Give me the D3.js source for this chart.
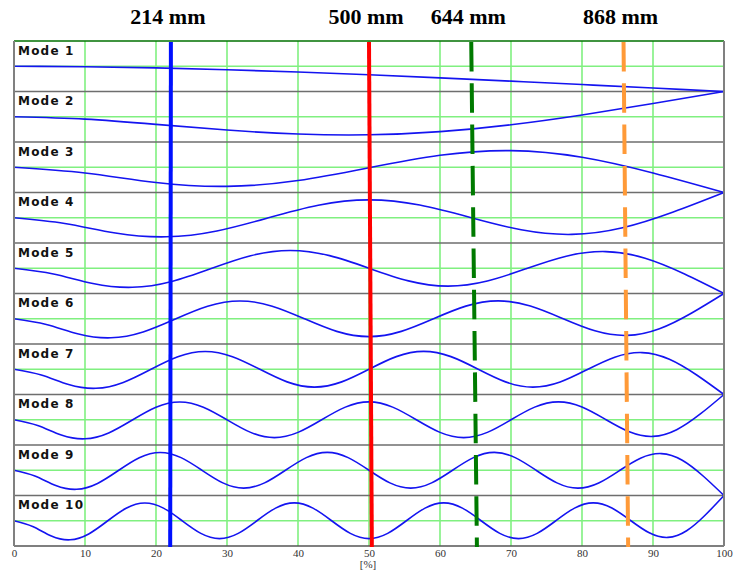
<!DOCTYPE html>
<html>
<head>
<meta charset="utf-8">
<script src="https://cdn.jsdelivr.net/npm/d3@7/dist/d3.min.js"></script>
<style>
  body { margin: 0; background: #fff; }
</style>
</head>
<body>
<div id="chart"></div>
<script>
// one band per mode
const modeNames = ["Mode 1", "Mode 2", "Mode 3", "Mode 4", "Mode 5",
                   "Mode 6", "Mode 7", "Mode 8", "Mode 9", "Mode 10"];

// deflection: +1 = top of band, -1 = bottom, 0 = green mid line
// points are evenly spaced from 0 % to 100 %
const mode1 = [0, -0.017, -0.064, -0.137, -0.230, -0.339, -0.461, -0.591, -0.725, -0.862, -1];
const mode2 = [0, -0.093, -0.301, -0.526, -0.683, -0.714, -0.589, -0.317, 0.070, 0.524, 1];
const mode3 = [0, -0.228, -0.605, -0.757, -0.526, -0.020, 0.474, 0.658, 0.395, -0.228, -1];
const mode4 = [0, -0.228, -0.604, -0.755, -0.522, -0.010, 0.497, 0.707, 0.504, 0.010, -0.478,
               -0.660, -0.396, 0.228, 1];
const mode5 = [0, -0.228, -0.604, -0.755, -0.522, -0.010, 0.496, 0.705, 0.499, 0, -0.501,
               -0.709, -0.505, -0.010, 0.478, 0.660, 0.396, -0.228, -1];
const mode6 = [0, -0.228, -0.604, -0.755, -0.522, -0.010, 0.496, 0.705, 0.499, 0, -0.5,
               -0.707, -0.5, 0, 0.5, 0.709, 0.505, 0.010, -0.478, -0.660, -0.396, 0.228, 1];
const mode7 = [0, -0.228, -0.604, -0.755, -0.522, -0.010, 0.496, 0.705, 0.499, 0, -0.5,
               -0.707, -0.5, 0, 0.5, 0.707, 0.5, 0, -0.5, -0.709, -0.505, -0.010, 0.478,
               0.660, 0.396, -0.228, -1];
const mode8 = [0, -0.228, -0.604, -0.755, -0.522, -0.010, 0.496, 0.705, 0.499, 0, -0.5,
               -0.707, -0.5, 0, 0.5, 0.707, 0.5, 0, -0.5, -0.707, -0.5, 0, 0.5, 0.709,
               0.505, 0.010, -0.478, -0.660, -0.396, 0.228, 1];
const mode9 = [0, -0.228, -0.604, -0.755, -0.522, -0.010, 0.496, 0.705, 0.499, 0, -0.5,
               -0.707, -0.5, 0, 0.5, 0.707, 0.5, 0, -0.5, -0.707, -0.5, 0, 0.5, 0.707,
               0.5, 0, -0.5, -0.709, -0.505, -0.010, 0.478, 0.660, 0.396, -0.228, -1];
const mode10 = [0, -0.228, -0.604, -0.755, -0.522, -0.010, 0.496, 0.705, 0.499, 0, -0.5,
                -0.707, -0.5, 0, 0.5, 0.707, 0.5, 0, -0.5, -0.707, -0.5, 0, 0.5, 0.707,
                0.5, 0, -0.5, -0.707, -0.5, 0, 0.501, 0.709, 0.505, 0.010, -0.478, -0.660,
                -0.396, 0.228, 1];

const modeValues = [mode1, mode2, mode3, mode4, mode5, mode6, mode7, mode8, mode9, mode10];

const xTicks = [0, 10, 20, 30, 40, 50, 60, 70, 80, 90, 100];
const xGrid = [10, 20, 30, 40, 50, 60, 70, 80, 90];

// measuring points (the hand drawn lines lean a little, so top and bottom in %)
const markerLabels = ["214 mm", "500 mm", "644 mm", "868 mm"];
const markerTop = [22.1, 50.0, 64.4, 85.85];
const markerBottom = [22.0, 50.4, 65.2, 86.5];

const width = 735
const height = 573
const margin = {top: 41, right: 11, bottom: 27, left: 14}

const markerStyle = [
    {color: "#0010ff", dash: null},
    {color: "#ff0000", dash: null},
    {color: "#007a00", dash: "29.5,11.8"},
    {color: "#ff9a38", dash: "29.5,11.8"}
]

const svg = d3.select("#chart")
    .append("svg")
    .attr("width", width)
    .attr("height", height)

svg.append("rect")
    .attr("width", width)
    .attr("height", height)
    .attr("fill", "#fff")

const x = d3.scaleLinear()
    .domain([0, 100])
    .range([margin.left, width - margin.right])

const band = d3.scaleBand()
    .domain(modeNames)
    .range([margin.top, height - margin.bottom])

// y inside a single band
const y = d3.scaleLinear()
    .domain([-1, 1])
    .range([band.bandwidth(), 0])

const plotTop = margin.top
const plotBottom = height - margin.bottom

// green grid: vertical every 10 %, horizontal through the middle of each band
svg.append("g")
    .selectAll("line")
    .data(xGrid)
    .enter().append("line")
    .attr("x1", d => x(d)).attr("x2", d => x(d))
    .attr("y1", plotTop).attr("y2", plotBottom)
    .attr("stroke", "#80f080")
    .attr("stroke-width", 1.6)

svg.append("g")
    .selectAll("line")
    .data(modeNames)
    .enter().append("line")
    .attr("x1", x(0)).attr("x2", x(100))
    .attr("y1", d => band(d) + y(0)).attr("y2", d => band(d) + y(0))
    .attr("stroke", "#80f080")
    .attr("stroke-width", 1.6)

// gray separators between the bands
svg.append("g")
    .selectAll("line")
    .data(modeNames.slice(1))
    .enter().append("line")
    .attr("x1", x(0)).attr("x2", x(100))
    .attr("y1", d => band(d)).attr("y2", d => band(d))
    .attr("stroke", "#6e6e6e")
    .attr("stroke-width", 1.4)

// mode shapes
const line = d3.line()
    .x((d, i, arr) => x(i / (arr.length - 1) * 100))
    .y(d => y(d))
    .curve(d3.curveNatural)

const modes = svg.append("g")
    .selectAll("g")
    .data(modeNames)
    .enter().append("g")
    .attr("transform", d => `translate(0, ${band(d)})`)

modes.append("path")
    .attr("d", (d, i) => line(modeValues[i]))
    .attr("fill", "none")
    .attr("stroke", "#1414f0")
    .attr("stroke-width", 1.6)

modes.append("text")
    .attr("x", 18)
    .attr("y", 13.5)
    .text(d => d)
    .style("font", "bold 12px 'DejaVu Sans'")
    .style("letter-spacing", "1.2px")
    .attr("fill", "#111")

// frame
svg.append("line")
    .attr("x1", x(0)).attr("x2", x(100))
    .attr("y1", plotTop).attr("y2", plotTop)
    .attr("stroke", "#007000").attr("stroke-width", 1.5)
svg.append("line")
    .attr("x1", x(0)).attr("x2", x(100))
    .attr("y1", plotBottom).attr("y2", plotBottom)
    .attr("stroke", "#555").attr("stroke-width", 1.5)
svg.append("g")
    .selectAll("line")
    .data([0, 100])
    .enter().append("line")
    .attr("x1", d => x(d)).attr("x2", d => x(d))
    .attr("y1", plotTop).attr("y2", plotBottom)
    .attr("stroke", "#808080")
    .attr("stroke-width", 2)

// vertical measuring lines + labels on top
const markers = svg.append("g")
    .selectAll("g")
    .data(markerLabels)
    .enter().append("g")

markers.append("line")
    .attr("x1", (d, i) => x(markerTop[i]))
    .attr("x2", (d, i) => x(markerBottom[i]))
    .attr("y1", plotTop + 1)
    .attr("y2", plotBottom + 1)
    .attr("stroke", (d, i) => markerStyle[i].color)
    .attr("stroke-width", 4)
    .attr("stroke-dasharray", (d, i) => markerStyle[i].dash)

markers.append("text")
    .attr("x", (d, i) => x(markerTop[i]) - 3)
    .attr("y", 24)
    .attr("text-anchor", "middle")
    .text(d => d)
    .style("font", "bold 22px 'Liberation Serif'")
    .attr("fill", "#000")

// x axis, labels only
const xAxis = svg.append("g")
    .attr("transform", `translate(0, ${plotBottom})`)
    .call(d3.axisBottom(x).tickValues(xTicks).tickSize(0).tickPadding(3))

xAxis.select(".domain").remove()
xAxis.selectAll("text")
    .style("font", "11px 'Liberation Serif'")
    .attr("fill", "#333")

svg.append("text")
    .attr("x", x(50) - 1)
    .attr("y", 568)
    .attr("text-anchor", "middle")
    .text("[%]")
    .style("font", "11px 'Liberation Serif'")
    .attr("fill", "#333")
</script>
</body>
</html>
